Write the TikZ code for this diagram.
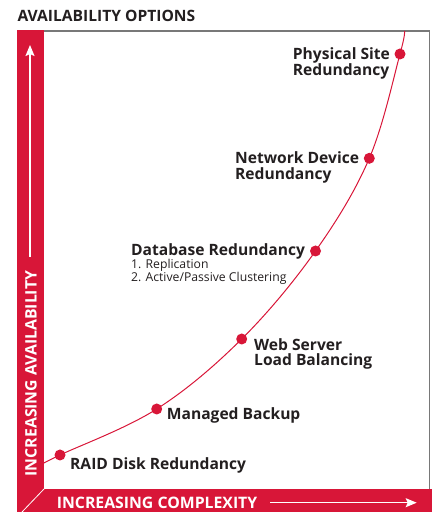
\documentclass[tikz,border=0pt]{standalone}
\usepackage{fontspec}
\setmainfont{Open Sans}
\usetikzlibrary{arrows.meta}
\definecolor{avred}{RGB}{216,22,56}
\definecolor{avtext}{RGB}{35,31,32}
\definecolor{avgray}{RGB}{120,120,120}
\begin{document}
\begin{tikzpicture}[x=1pt,y=1pt,
  lbl/.style={font=\fontsize{15.6}{18}\selectfont\bfseries, text=avtext, inner sep=0pt, anchor=base west},
  sublbl/.style={font=\fontsize{12.2}{14}\selectfont, text=avtext, inner sep=0pt, anchor=base west},
  bartxt/.style={font=\fontsize{15.8}{18}\selectfont\bfseries, text=white, inner sep=0pt, anchor=base west},
  dotnode/.style={circle, fill=avred, minimum size=11pt, inner sep=0pt},
  barrow/.style={white, line width=1.5pt, -{Stealth[length=11pt,width=9pt,inset=2pt]}},
]
\useasboundingbox (0,0) rectangle (432,512);
% bars
\fill[avred] (17,0) rectangle (44,482);
\fill[avred] (17,0) rectangle (432,23);
\draw[white, line width=0.8pt] (22,0) -- (44,23);
% frame
\draw[avgray, line width=1.2pt] (44,481) -- (429.5,481) -- (429.5,23);
% title
\node[lbl] (title) at (17.3,490.3) {AVAILABILITY OPTIONS};
% axis texts and arrows
\node[bartxt, rotate=90] (ytxt) at (36.5,35.5) {INCREASING AVAILABILITY};
\coordinate (ya) at (30,255.3);
\coordinate (yb) at (30,467);
\draw[barrow] (ya) -- (yb);
\node[bartxt] (xtxt) at (56.7,3.3) {INCREASING COMPLEXITY};
\coordinate (xa) at (270,9.3);
\coordinate (xb) at (416.7,9.3);
\draw[barrow] (xa) -- (xb);
% curve
\coordinate (s) at (43.5,48.7);
\coordinate (p1) at (60,57);
\coordinate (p2) at (156.7,103);
\coordinate (p3) at (241.7,173);
\coordinate (p4) at (315.5,261);
\coordinate (p5) at (369.3,353.7);
\coordinate (p6) at (400,458);
\coordinate (e) at (404.5,481);
\draw[avred, line width=1pt] plot[smooth, tension=0.6] coordinates {(s) (p1) (p2) (p3) (p4) (p5) (p6) (e)};
\foreach \i in {1,...,6} { \node[dotnode] (d\i) at (p\i) {}; }
% labels
\node[lbl] (l1) at (70,42.7) {RAID Disk Redundancy};
\node[lbl] (l2) at (166.7,92) {Managed Backup};
\node[lbl] (l3a) at (254,161.3) {Web Server};
\node[lbl] (l3b) at (254,146) {Load Balancing};
\node[lbl] (l4) at (131,256.5) {Database Redundancy};
\node[sublbl] (l4a) at (131,243.3) {1. Replication};
\node[sublbl] (l4b) at (131,230.8) {2. Active/Passive Clustering};
\node[lbl] (l5a) at (235,348) {Network Device};
\node[lbl] (l5b) at (235,332.5) {Redundancy};
\node[lbl] (l6a) at (292.7,452) {Physical Site};
\node[lbl] (l6b) at (292.7,436.3) {Redundancy};
\end{tikzpicture}
\end{document}
